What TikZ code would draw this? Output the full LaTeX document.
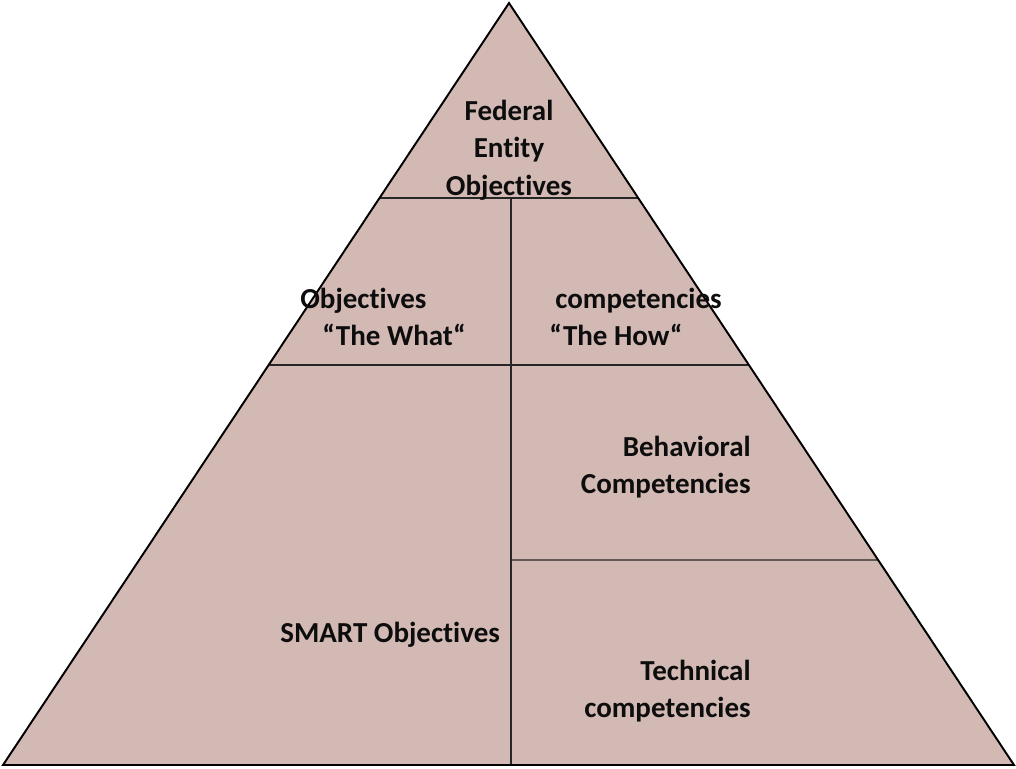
\documentclass[tikz,border=0pt]{standalone}
\usepackage{fontspec}
\setmainfont{Carlito}[Ligatures=NoCommon]
\usetikzlibrary{calc}

\definecolor{pyrfill}{RGB}{211,185,180}

\begin{document}
\begin{tikzpicture}[x=0.02cm,y=-0.02cm,
    pyr/.style={fill=pyrfill},
    edge/.style={draw=black,line width=1.1pt,line join=miter},
    divider/.style={draw=black!85,line width=0.8pt},
    lbl/.style={font=\bfseries\fontsize{16.5}{21.4}\selectfont,inner sep=0pt,text=black!95}]
    \useasboundingbox (0,0) rectangle (1016,768);

    % Corners of the pyramid
    \coordinate (apex) at (509,3);
    \coordinate (baseL) at (3,765);
    \coordinate (baseR) at (1014,765);
    \fill[pyr] (apex) -- (baseL) -- (baseR) -- cycle;

    % Points on the sides where the layers are cut
    \foreach \nm/\f in {one/.2559, two/.4751, three/.7310} {
        \coordinate (cut\nm L) at ($(apex)!\f!(baseL)$);
        \coordinate (cut\nm R) at ($(apex)!\f!(baseR)$);
    }
    \coordinate (split) at (511,198);
    \coordinate (splitm) at (511,560);
    \coordinate (splitb) at (511,765);

    % Dividers
    \draw[divider] (cutoneL) -- (cutoneR);
    \draw[divider] (cuttwoL) -- (cuttwoR);
    \draw[divider] (splitm) -- (cutthreeR);
    \draw[divider] (split) -- (splitb);
    \draw[edge] (apex) -- (baseL) -- (baseR) -- cycle;

    % Labels
    \node[lbl,align=center] (fed) at (509,150) {Federal\\Entity\\Objectives};
    \node[lbl,align=left,anchor=west] (what) at (300,317) {Objectives\\\hspace{12.5pt}“The What“};
    \node[lbl,align=left,anchor=west] (how) at (549,317) {\hspace{3.4pt}competencies\\“The How“};
    \node[lbl,align=right,anchor=east] (beh) at (751,467) {Behavioral\\Competencies};
    \node[lbl,anchor=west] (smart) at (280,635) {SMART Objectives};
    \node[lbl,align=right,anchor=east] (tech) at (751,691) {Technical\\competencies};
\end{tikzpicture}
\end{document}
